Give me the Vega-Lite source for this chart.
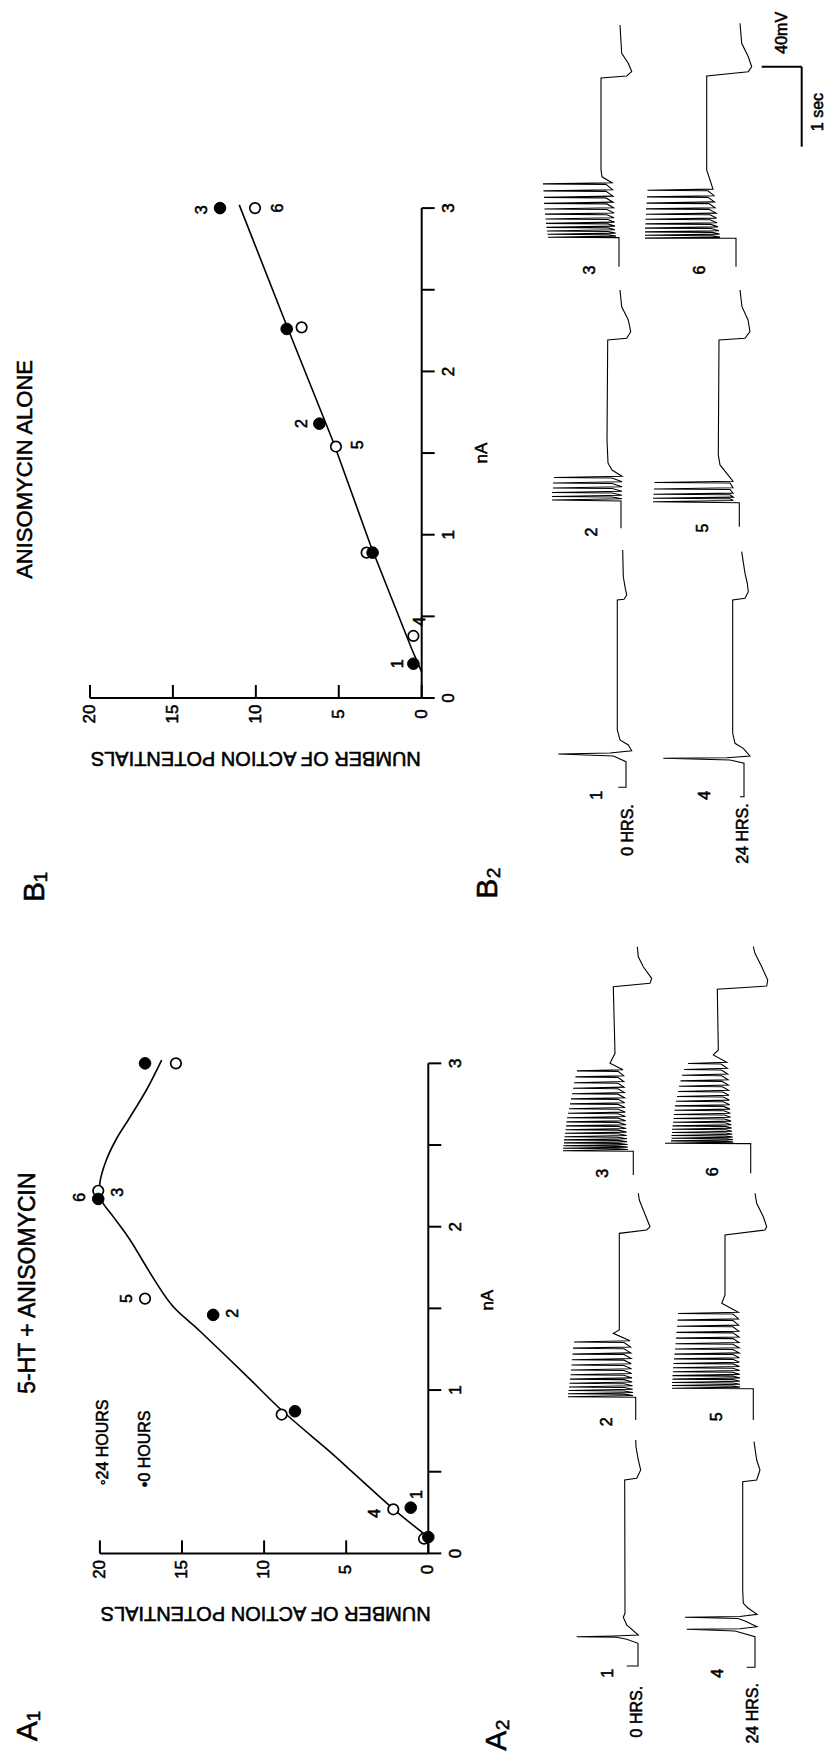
{
"$schema":"https://vega.github.io/schema/vega-lite/v6.json",
"width":826,"height":1758,"padding":0,"autosize":{"type":"none"},
"background":"white",
"config":{"view":{"stroke":null},"axis":{"disable":true},"legend":{"disable":true},"text":{"font":"Liberation Sans","fill":"black","stroke":"black","strokeWidth":0.55},"rule":{"color":"black"},"line":{"color":"black"},"point":{"opacity":1}},
"datasets":{
"b1p":[{"c":12.16,"n":3.0,"h":0},{"c":8.14,"n":2.26,"h":0},{"c":6.17,"n":1.68,"h":0},{"c":2.96,"n":0.89,"h":0},{"c":0.5,"n":0.21,"h":0},
{"c":10.05,"n":3.0,"h":24},{"c":7.24,"n":2.27,"h":24},{"c":5.17,"n":1.54,"h":24},{"c":3.32,"n":0.89,"h":24},{"c":0.5,"n":0.38,"h":24}],
"b1l":[{"c":0,"n":0.16},{"c":0.6,"n":0.3},{"c":3.1,"n":0.94},{"c":5.3,"n":1.56},{"c":8.1,"n":2.27},{"c":11.0,"n":3.02}],
"b1t":[{"c":13.26,"n":2.99,"s":"3"},{"c":8.65,"n":3.0,"s":"6"},{"c":7.24,"n":1.68,"s":"2"},{"c":3.82,"n":1.55,"s":"5"},{"c":1.41,"n":0.21,"s":"1"},{"c":0.1,"n":0.47,"s":"4"}],
"a1p":[{"c":17.25,"n":3.0,"h":0},{"c":20.1,"n":2.17,"h":0},{"c":13.1,"n":1.46,"h":0},{"c":8.12,"n":0.87,"h":0},{"c":1.07,"n":0.28,"h":0},{"c":0,"n":0.1,"h":0},
{"c":15.37,"n":3.0,"h":24},{"c":20.1,"n":2.22,"h":24},{"c":17.25,"n":1.56,"h":24},{"c":8.93,"n":0.85,"h":24},{"c":2.13,"n":0.27,"h":24},{"c":0.26,"n":0.09,"h":24}],
"a1l":[{"c":0,"n":0.1},{"c":2.1,"n":0.27},{"c":4.97,"n":0.53},{"c":6.19,"n":0.64},{"c":8.83,"n":0.867},{"c":11.1,"n":1.09},{"c":13.9,"n":1.36},{"c":15.53,"n":1.51},{"c":16.65,"n":1.67},{"c":18.17,"n":1.92},{"c":19.18,"n":2.06},{"c":19.89,"n":2.16},{"c":20.0,"n":2.27},{"c":19.6,"n":2.41},{"c":18.98,"n":2.54},{"c":18.17,"n":2.67},{"c":17.15,"n":2.84},{"c":16.24,"n":3.02}],
"a1t":[{"c":21.2,"n":2.18,"s":"6"},{"c":18.88,"n":2.21,"s":"3"},{"c":18.37,"n":1.56,"s":"5"},{"c":11.88,"n":1.47,"s":"2"},{"c":3.25,"n":0.245,"s":"4"},{"c":0.71,"n":0.36,"s":"1"}],
"b2a":[
{"k":1,"t":0.159,"v":7.7},{"k":1,"t":0.159,"v":0},{"k":1,"t":0.479,"v":0},{"k":1,"t":0.55,"v":12.7},{"k":1,"t":0.575,"v":67.7},{"k":1,"t":0.588,"v":16},{"k":1,"t":0.616,"v":-5.7},{"k":1,"t":0.688,"v":-2.3},{"k":1,"t":0.75,"v":6},{"k":1,"t":0.875,"v":8.7},{"k":1,"t":2.5,"v":8.7},{"k":1,"t":2.509,"v":2},{"k":1,"t":2.563,"v":-0.7},{"k":1,"t":2.646,"v":0.7},{"k":1,"t":2.791,"v":2.7},{"k":1,"t":3.125,"v":3.3},
{"k":2,"t":3.396,"v":5},{"k":2,"t":3.737,"v":5},{"k":2,"t":3.75,"v":74},{"k":2,"t":3.765,"v":4},{"k":2,"t":3.788,"v":14},{"k":2,"t":3.794,"v":74},{"k":2,"t":3.809,"v":4},{"k":2,"t":3.838,"v":14},{"k":2,"t":3.844,"v":74},{"k":2,"t":3.859,"v":4},{"k":2,"t":3.894,"v":14},{"k":2,"t":3.9,"v":73},{"k":2,"t":3.915,"v":4},{"k":2,"t":3.956,"v":14},{"k":2,"t":3.963,"v":73},{"k":2,"t":3.978,"v":4},{"k":2,"t":4.025,"v":14},{"k":2,"t":4.031,"v":72},{"k":2,"t":4.046,"v":4},{"k":2,"t":4.125,"v":14},{"k":2,"t":4.213,"v":18},{"k":2,"t":4.5,"v":19},{"k":2,"t":5.75,"v":18.3},{"k":2,"t":5.771,"v":-0.7},{"k":2,"t":5.854,"v":-4.7},{"k":2,"t":6.0,"v":-2.3},{"k":2,"t":6.166,"v":4.3},{"k":2,"t":6.375,"v":6},
{"k":3,"t":6.666,"v":7},{"k":3,"t":7.03,"v":7},{"k":3,"t":7.034,"v":78},{"k":3,"t":7.049,"v":10},{"k":3,"t":7.065,"v":18},{"k":3,"t":7.071,"v":78.5},{"k":3,"t":7.086,"v":10.5},{"k":3,"t":7.106,"v":18},{"k":3,"t":7.113,"v":79},{"k":3,"t":7.128,"v":11},{"k":3,"t":7.151,"v":18},{"k":3,"t":7.158,"v":79.5},{"k":3,"t":7.173,"v":11},{"k":3,"t":7.201,"v":18},{"k":3,"t":7.208,"v":80},{"k":3,"t":7.223,"v":11.5},{"k":3,"t":7.256,"v":18},{"k":3,"t":7.263,"v":80.5},{"k":3,"t":7.278,"v":12},{"k":3,"t":7.316,"v":19},{"k":3,"t":7.323,"v":81},{"k":3,"t":7.338,"v":12},{"k":3,"t":7.381,"v":19},{"k":3,"t":7.388,"v":81.5},{"k":3,"t":7.403,"v":12.5},{"k":3,"t":7.451,"v":19},{"k":3,"t":7.458,"v":82},{"k":3,"t":7.473,"v":13},{"k":3,"t":7.526,"v":20},{"k":3,"t":7.533,"v":82},{"k":3,"t":7.548,"v":13},{"k":3,"t":7.608,"v":20},{"k":3,"t":7.614,"v":82.5},{"k":3,"t":7.629,"v":13.5},{"k":3,"t":7.695,"v":20},{"k":3,"t":7.701,"v":83},{"k":3,"t":7.716,"v":14},{"k":3,"t":7.79,"v":24},{"k":3,"t":7.875,"v":25},{"k":3,"t":9.025,"v":25},{"k":3,"t":9.05,"v":-0.7},{"k":3,"t":9.104,"v":-5.7},{"k":3,"t":9.209,"v":-2.3},{"k":3,"t":9.334,"v":4.3},{"k":3,"t":9.688,"v":6}],
"b2b":[
{"k":4,"t":0.041,"v":4},{"k":4,"t":0.041,"v":0},{"k":4,"t":0.459,"v":0},{"k":4,"t":0.5,"v":14},{"k":4,"t":0.521,"v":80.7},{"k":4,"t":0.529,"v":17.3},{"k":4,"t":0.55,"v":-6},{"k":4,"t":0.646,"v":0.7},{"k":4,"t":0.709,"v":9},{"k":4,"t":0.834,"v":11.3},{"k":4,"t":2.5,"v":11.3},{"k":4,"t":2.521,"v":-1},{"k":4,"t":2.604,"v":-4.3},{"k":4,"t":2.709,"v":-3.3},{"k":4,"t":2.834,"v":-1},{"k":4,"t":3.104,"v":2.3},
{"k":5,"t":3.416,"v":4.7},{"k":5,"t":3.716,"v":4.7},{"k":5,"t":3.729,"v":91},{"k":5,"t":3.744,"v":10.7},{"k":5,"t":3.765,"v":14},{"k":5,"t":3.771,"v":91},{"k":5,"t":3.786,"v":10.7},{"k":5,"t":3.815,"v":14},{"k":5,"t":3.821,"v":90.5},{"k":5,"t":3.836,"v":11},{"k":5,"t":3.881,"v":14},{"k":5,"t":3.888,"v":90},{"k":5,"t":3.903,"v":11},{"k":5,"t":3.963,"v":14},{"k":5,"t":3.969,"v":89.5},{"k":5,"t":3.984,"v":11},{"k":5,"t":4.188,"v":24},{"k":5,"t":4.313,"v":25.7},{"k":5,"t":5.75,"v":25},{"k":5,"t":5.771,"v":-1},{"k":5,"t":5.854,"v":-6},{"k":5,"t":6.0,"v":-4},{"k":5,"t":6.166,"v":2},{"k":5,"t":6.375,"v":4},
{"k":6,"t":6.666,"v":8},{"k":6,"t":7.021,"v":8},{"k":6,"t":7.024,"v":99},{"k":6,"t":7.036,"v":24},{"k":6,"t":7.053,"v":32},{"k":6,"t":7.059,"v":99},{"k":6,"t":7.074,"v":24.5},{"k":6,"t":7.095,"v":32},{"k":6,"t":7.101,"v":99},{"k":6,"t":7.116,"v":25},{"k":6,"t":7.143,"v":33},{"k":6,"t":7.149,"v":99},{"k":6,"t":7.164,"v":26},{"k":6,"t":7.195,"v":33},{"k":6,"t":7.201,"v":98.5},{"k":6,"t":7.216,"v":27},{"k":6,"t":7.253,"v":34},{"k":6,"t":7.259,"v":98.5},{"k":6,"t":7.274,"v":27.5},{"k":6,"t":7.315,"v":34},{"k":6,"t":7.321,"v":98},{"k":6,"t":7.336,"v":28},{"k":6,"t":7.383,"v":35},{"k":6,"t":7.389,"v":98},{"k":6,"t":7.404,"v":29},{"k":6,"t":7.455,"v":35},{"k":6,"t":7.461,"v":97.5},{"k":6,"t":7.476,"v":29.5},{"k":6,"t":7.533,"v":36},{"k":6,"t":7.539,"v":97},{"k":6,"t":7.554,"v":30},{"k":6,"t":7.615,"v":36},{"k":6,"t":7.621,"v":96.5},{"k":6,"t":7.636,"v":31},{"k":6,"t":7.75,"v":34},{"k":6,"t":7.875,"v":37.3},{"k":6,"t":9.05,"v":37.3},{"k":6,"t":9.104,"v":-4.3},{"k":6,"t":9.166,"v":-7.7},{"k":6,"t":9.291,"v":-4.3},{"k":6,"t":9.459,"v":2.3},{"k":6,"t":9.709,"v":4}],
"a2a":[
{"k":1,"t":0.175,"v":11.3},{"k":1,"t":0.175,"v":0},{"k":1,"t":0.459,"v":0},{"k":1,"t":0.509,"v":11.3},{"k":1,"t":0.534,"v":21.3},{"k":1,"t":0.541,"v":61.3},{"k":1,"t":0.55,"v":24.7},{"k":1,"t":0.563,"v":-0.3},{"k":1,"t":0.688,"v":11.3},{"k":1,"t":0.784,"v":14.7},{"k":1,"t":0.834,"v":13},{"k":1,"t":2.5,"v":13.3},{"k":1,"t":2.521,"v":1.3},{"k":1,"t":2.625,"v":-2.7},{"k":1,"t":2.75,"v":-0.3},{"k":1,"t":2.916,"v":2},{"k":1,"t":3.0,"v":2.3},
{"k":2,"t":3.25,"v":2.3},{"k":2,"t":3.535,"v":2.3},{"k":2,"t":3.541,"v":70},{"k":2,"t":3.556,"v":5},{"k":2,"t":3.573,"v":14},{"k":2,"t":3.579,"v":70},{"k":2,"t":3.594,"v":5},{"k":2,"t":3.613,"v":14},{"k":2,"t":3.619,"v":69.5},{"k":2,"t":3.634,"v":5.3},{"k":2,"t":3.656,"v":14},{"k":2,"t":3.663,"v":69},{"k":2,"t":3.678,"v":5.5},{"k":2,"t":3.704,"v":14},{"k":2,"t":3.71,"v":68.5},{"k":2,"t":3.725,"v":5.8},{"k":2,"t":3.755,"v":14},{"k":2,"t":3.761,"v":68},{"k":2,"t":3.776,"v":6},{"k":2,"t":3.81,"v":14},{"k":2,"t":3.816,"v":67.5},{"k":2,"t":3.831,"v":6.3},{"k":2,"t":3.869,"v":14},{"k":2,"t":3.875,"v":67},{"k":2,"t":3.89,"v":6.5},{"k":2,"t":3.931,"v":14},{"k":2,"t":3.938,"v":66.5},{"k":2,"t":3.953,"v":6.8},{"k":2,"t":3.998,"v":14},{"k":2,"t":4.004,"v":66},{"k":2,"t":4.019,"v":7},{"k":2,"t":4.068,"v":14},{"k":2,"t":4.074,"v":65.5},{"k":2,"t":4.089,"v":7.3},{"k":2,"t":4.141,"v":14},{"k":2,"t":4.148,"v":65},{"k":2,"t":4.163,"v":7.5},{"k":2,"t":4.219,"v":14},{"k":2,"t":4.225,"v":64},{"k":2,"t":4.24,"v":8},{"k":2,"t":4.333,"v":24.7},{"k":2,"t":4.375,"v":18.7},{"k":2,"t":5.583,"v":18.7},{"k":2,"t":5.625,"v":-8.7},{"k":2,"t":5.666,"v":-12},{"k":2,"t":5.875,"v":-5.3},{"k":2,"t":6.0,"v":-1.3},{"k":2,"t":6.084,"v":-0.3},
{"k":3,"t":6.313,"v":4.7},{"k":3,"t":6.61,"v":4.7},{"k":3,"t":6.616,"v":75},{"k":3,"t":6.631,"v":10},{"k":3,"t":6.64,"v":20},{"k":3,"t":6.646,"v":75},{"k":3,"t":6.661,"v":10.3},{"k":3,"t":6.673,"v":20},{"k":3,"t":6.679,"v":74.5},{"k":3,"t":6.694,"v":10.5},{"k":3,"t":6.708,"v":20},{"k":3,"t":6.714,"v":74},{"k":3,"t":6.729,"v":10.8},{"k":3,"t":6.745,"v":20},{"k":3,"t":6.751,"v":74},{"k":3,"t":6.766,"v":11},{"k":3,"t":6.785,"v":20},{"k":3,"t":6.791,"v":73.5},{"k":3,"t":6.806,"v":11.3},{"k":3,"t":6.828,"v":20},{"k":3,"t":6.834,"v":73},{"k":3,"t":6.849,"v":11.5},{"k":3,"t":6.873,"v":20},{"k":3,"t":6.879,"v":72.5},{"k":3,"t":6.894,"v":11.8},{"k":3,"t":6.92,"v":20},{"k":3,"t":6.926,"v":72},{"k":3,"t":6.941,"v":12},{"k":3,"t":6.97,"v":20},{"k":3,"t":6.976,"v":71.5},{"k":3,"t":6.991,"v":12.3},{"k":3,"t":7.023,"v":20},{"k":3,"t":7.029,"v":71},{"k":3,"t":7.044,"v":12.5},{"k":3,"t":7.078,"v":20},{"k":3,"t":7.084,"v":70},{"k":3,"t":7.099,"v":12.8},{"k":3,"t":7.135,"v":20},{"k":3,"t":7.141,"v":69},{"k":3,"t":7.156,"v":13},{"k":3,"t":7.195,"v":20},{"k":3,"t":7.201,"v":68},{"k":3,"t":7.216,"v":13.3},{"k":3,"t":7.258,"v":20},{"k":3,"t":7.264,"v":67},{"k":3,"t":7.279,"v":13.5},{"k":3,"t":7.323,"v":20},{"k":3,"t":7.329,"v":66},{"k":3,"t":7.344,"v":13.8},{"k":3,"t":7.39,"v":20},{"k":3,"t":7.396,"v":65},{"k":3,"t":7.411,"v":14},{"k":3,"t":7.46,"v":20},{"k":3,"t":7.466,"v":64},{"k":3,"t":7.481,"v":14.3},{"k":3,"t":7.533,"v":20},{"k":3,"t":7.539,"v":62.5},{"k":3,"t":7.554,"v":14.5},{"k":3,"t":7.608,"v":20},{"k":3,"t":7.614,"v":61},{"k":3,"t":7.629,"v":15},{"k":3,"t":7.709,"v":28},{"k":3,"t":7.834,"v":23},{"k":3,"t":8.666,"v":24.7},{"k":3,"t":8.709,"v":-12},{"k":3,"t":8.771,"v":-13.7},{"k":3,"t":8.916,"v":-5.3},{"k":3,"t":9.041,"v":-0.3},{"k":3,"t":9.166,"v":0.7}],
"a2b":[
{"k":4,"t":0.159,"v":8.3},{"k":4,"t":0.159,"v":0},{"k":4,"t":0.541,"v":0},{"k":4,"t":0.613,"v":20},{"k":4,"t":0.634,"v":68.3},{"k":4,"t":0.641,"v":15},{"k":4,"t":0.666,"v":-2},{"k":4,"t":0.738,"v":10},{"k":4,"t":0.769,"v":17},{"k":4,"t":0.784,"v":70},{"k":4,"t":0.794,"v":15},{"k":4,"t":0.821,"v":-2},{"k":4,"t":0.9,"v":7},{"k":4,"t":0.959,"v":11.7},{"k":4,"t":1.125,"v":12.3},{"k":4,"t":2.479,"v":12.3},{"k":4,"t":2.5,"v":-1.7},{"k":4,"t":2.625,"v":-5},{"k":4,"t":2.75,"v":-1.7},{"k":4,"t":2.979,"v":1},
{"k":5,"t":3.25,"v":1.7},{"k":5,"t":3.64,"v":1.7},{"k":5,"t":3.646,"v":83},{"k":5,"t":3.661,"v":15},{"k":5,"t":3.675,"v":22},{"k":5,"t":3.681,"v":83},{"k":5,"t":3.696,"v":15},{"k":5,"t":3.713,"v":22},{"k":5,"t":3.719,"v":83},{"k":5,"t":3.734,"v":15.1},{"k":5,"t":3.755,"v":22},{"k":5,"t":3.761,"v":82.5},{"k":5,"t":3.776,"v":15.2},{"k":5,"t":3.799,"v":22},{"k":5,"t":3.805,"v":82.5},{"k":5,"t":3.82,"v":15.3},{"k":5,"t":3.847,"v":22},{"k":5,"t":3.853,"v":82},{"k":5,"t":3.868,"v":15.4},{"k":5,"t":3.897,"v":22},{"k":5,"t":3.903,"v":82},{"k":5,"t":3.918,"v":15.5},{"k":5,"t":3.951,"v":22},{"k":5,"t":3.957,"v":81.5},{"k":5,"t":3.972,"v":15.6},{"k":5,"t":4.008,"v":22},{"k":5,"t":4.014,"v":81},{"k":5,"t":4.029,"v":15.7},{"k":5,"t":4.068,"v":22},{"k":5,"t":4.074,"v":80.5},{"k":5,"t":4.089,"v":15.8},{"k":5,"t":4.131,"v":22},{"k":5,"t":4.137,"v":80},{"k":5,"t":4.152,"v":15.9},{"k":5,"t":4.197,"v":22},{"k":5,"t":4.203,"v":79.5},{"k":5,"t":4.218,"v":16},{"k":5,"t":4.267,"v":22},{"k":5,"t":4.273,"v":79},{"k":5,"t":4.288,"v":16.1},{"k":5,"t":4.339,"v":22},{"k":5,"t":4.345,"v":78.5},{"k":5,"t":4.36,"v":16.2},{"k":5,"t":4.415,"v":22},{"k":5,"t":4.421,"v":78},{"k":5,"t":4.436,"v":16.4},{"k":5,"t":4.493,"v":22},{"k":5,"t":4.499,"v":77.5},{"k":5,"t":4.514,"v":16.5},{"k":5,"t":4.575,"v":22},{"k":5,"t":4.581,"v":77},{"k":5,"t":4.596,"v":16.7},{"k":5,"t":4.709,"v":33.3},{"k":5,"t":4.813,"v":30},{"k":5,"t":5.563,"v":30},{"k":5,"t":5.625,"v":-10},{"k":5,"t":5.666,"v":-11.7},{"k":5,"t":5.791,"v":-8.3},{"k":5,"t":5.959,"v":-1.7},{"k":5,"t":6.084,"v":0},
{"k":6,"t":6.334,"v":4.3},{"k":6,"t":6.705,"v":4.3},{"k":6,"t":6.709,"v":90},{"k":6,"t":6.724,"v":21.7},{"k":6,"t":6.733,"v":28},{"k":6,"t":6.739,"v":84},{"k":6,"t":6.754,"v":22},{"k":6,"t":6.765,"v":28.3},{"k":6,"t":6.771,"v":83.5},{"k":6,"t":6.786,"v":22.4},{"k":6,"t":6.8,"v":28.6},{"k":6,"t":6.806,"v":83.5},{"k":6,"t":6.821,"v":22.7},{"k":6,"t":6.838,"v":29},{"k":6,"t":6.844,"v":83},{"k":6,"t":6.859,"v":23},{"k":6,"t":6.878,"v":29.3},{"k":6,"t":6.884,"v":83},{"k":6,"t":6.899,"v":23.4},{"k":6,"t":6.92,"v":29.6},{"k":6,"t":6.926,"v":82.5},{"k":6,"t":6.941,"v":23.7},{"k":6,"t":6.965,"v":30},{"k":6,"t":6.971,"v":82},{"k":6,"t":6.986,"v":24},{"k":6,"t":7.013,"v":30.3},{"k":6,"t":7.019,"v":81.5},{"k":6,"t":7.034,"v":24.4},{"k":6,"t":7.063,"v":30.6},{"k":6,"t":7.069,"v":81},{"k":6,"t":7.084,"v":24.7},{"k":6,"t":7.115,"v":31},{"k":6,"t":7.121,"v":80.5},{"k":6,"t":7.136,"v":25},{"k":6,"t":7.17,"v":31.3},{"k":6,"t":7.176,"v":80},{"k":6,"t":7.191,"v":25.4},{"k":6,"t":7.228,"v":31.6},{"k":6,"t":7.234,"v":79},{"k":6,"t":7.249,"v":25.7},{"k":6,"t":7.288,"v":32},{"k":6,"t":7.294,"v":78},{"k":6,"t":7.309,"v":26},{"k":6,"t":7.35,"v":32.3},{"k":6,"t":7.356,"v":77},{"k":6,"t":7.371,"v":26.4},{"k":6,"t":7.415,"v":32.6},{"k":6,"t":7.421,"v":76},{"k":6,"t":7.436,"v":26.7},{"k":6,"t":7.483,"v":33},{"k":6,"t":7.489,"v":74.5},{"k":6,"t":7.504,"v":27},{"k":6,"t":7.553,"v":33.3},{"k":6,"t":7.559,"v":73},{"k":6,"t":7.574,"v":27.4},{"k":6,"t":7.625,"v":33.6},{"k":6,"t":7.631,"v":71},{"k":6,"t":7.646,"v":27.7},{"k":6,"t":7.7,"v":34},{"k":6,"t":7.706,"v":67},{"k":6,"t":7.721,"v":28.3},{"k":6,"t":7.813,"v":41.7},{"k":6,"t":7.875,"v":36.7},{"k":6,"t":8.634,"v":37.7},{"k":6,"t":8.675,"v":-11.7},{"k":6,"t":8.75,"v":-12.7},{"k":6,"t":8.916,"v":-6.7},{"k":6,"t":9.084,"v":0},{"k":6,"t":9.166,"v":1.7}]
},
"resolve":{"scale":{"x":"independent","y":"independent"}},
"layer":[
{"layer":[
 {"data":{"values":[{"c":0,"c2":20,"n":0,"n2":0},{"c":0,"c2":0,"n":0,"n2":3}]},"mark":{"type":"rule","strokeWidth":2},
  "encoding":{"x":{"field":"c","type":"quantitative","scale":{"domain":[-24.378,25.426],"reverse":true,"nice":false,"zero":false},"axis":null},"x2":{"field":"c2"},"y":{"field":"n","type":"quantitative","scale":{"domain":[-6.4911,4.2744],"nice":false,"zero":false},"axis":null},"y2":{"field":"n2"}}},
 {"data":{"values":[{"c":0},{"c":5},{"c":10},{"c":15},{"c":20}]},"mark":{"type":"rule","strokeWidth":2,"y2Offset":-13},
  "encoding":{"x":{"field":"c","type":"quantitative","scale":{"domain":[-24.378,25.426],"reverse":true,"nice":false,"zero":false},"axis":null},"y":{"datum":0,"type":"quantitative","scale":{"domain":[-6.4911,4.2744],"nice":false,"zero":false},"axis":null},"y2":{"datum":0}}},
 {"data":{"values":[{"n":0},{"n":0.5},{"n":1},{"n":1.5},{"n":2},{"n":2.5},{"n":3}]},"mark":{"type":"rule","strokeWidth":2,"x2Offset":13},
  "encoding":{"x":{"datum":0,"type":"quantitative","scale":{"domain":[-24.378,25.426],"reverse":true,"nice":false,"zero":false},"axis":null},"x2":{"datum":0},"y":{"field":"n","type":"quantitative","scale":{"domain":[-6.4911,4.2744],"nice":false,"zero":false},"axis":null}}},
 {"data":{"values":[{"c":0},{"c":5},{"c":10},{"c":15},{"c":20}]},"mark":{"type":"text","angle":270,"dx":-16,"fontSize":17},
  "encoding":{"x":{"field":"c","type":"quantitative","scale":{"domain":[-24.378,25.426],"reverse":true,"nice":false,"zero":false},"axis":null},"y":{"datum":0,"type":"quantitative","scale":{"domain":[-6.4911,4.2744],"nice":false,"zero":false},"axis":null},"text":{"field":"c","type":"quantitative"}}},
 {"data":{"values":[{"n":0},{"n":1},{"n":2},{"n":3}]},"mark":{"type":"text","angle":270,"dy":27,"fontSize":17},
  "encoding":{"x":{"datum":0,"type":"quantitative","scale":{"domain":[-24.378,25.426],"reverse":true,"nice":false,"zero":false},"axis":null},"y":{"field":"n","type":"quantitative","scale":{"domain":[-6.4911,4.2744],"nice":false,"zero":false},"axis":null},"text":{"field":"n","type":"quantitative"}}},
 {"data":{"values":[{"c":0,"n":1.5,"s":"nA"}]},"mark":{"type":"text","angle":270,"dy":60,"fontSize":17},
  "encoding":{"x":{"field":"c","type":"quantitative","scale":{"domain":[-24.378,25.426],"reverse":true,"nice":false,"zero":false},"axis":null},"y":{"field":"n","type":"quantitative","scale":{"domain":[-6.4911,4.2744],"nice":false,"zero":false},"axis":null},"text":{"field":"s"}}},
 {"data":{"values":[{"c":10,"n":0,"s":"NUMBER OF ACTION POTENTIALS"}]},"mark":{"type":"text","angle":180,"dy":-60,"fontSize":20},
  "encoding":{"x":{"field":"c","type":"quantitative","scale":{"domain":[-24.378,25.426],"reverse":true,"nice":false,"zero":false},"axis":null},"y":{"field":"n","type":"quantitative","scale":{"domain":[-6.4911,4.2744],"nice":false,"zero":false},"axis":null},"text":{"field":"s"}}},
 {"data":{"values":[{"c":23.92,"n":1.4,"s":"ANISOMYCIN ALONE"}]},"mark":{"type":"text","angle":270,"fontSize":22},
  "encoding":{"x":{"field":"c","type":"quantitative","scale":{"domain":[-24.378,25.426],"reverse":true,"nice":false,"zero":false},"axis":null},"y":{"field":"n","type":"quantitative","scale":{"domain":[-6.4911,4.2744],"nice":false,"zero":false},"axis":null},"text":{"field":"s"}}},
 {"data":{"values":[{"c":23.32,"n":-1.157,"s":"B₁"}]},"mark":{"type":"text","angle":270,"fontSize":30},
  "encoding":{"x":{"field":"c","type":"quantitative","scale":{"domain":[-24.378,25.426],"reverse":true,"nice":false,"zero":false},"axis":null},"y":{"field":"n","type":"quantitative","scale":{"domain":[-6.4911,4.2744],"nice":false,"zero":false},"axis":null},"text":{"field":"s"}}},
 {"data":{"name":"b1l"},"mark":{"type":"line","strokeWidth":1.6},
  "encoding":{"x":{"field":"c","type":"quantitative","scale":{"domain":[-24.378,25.426],"reverse":true,"nice":false,"zero":false},"axis":null},"y":{"field":"n","type":"quantitative","scale":{"domain":[-6.4911,4.2744],"nice":false,"zero":false},"axis":null},"order":{"value":null}}},
 {"data":{"name":"b1p"},"transform":[{"filter":"datum.h == 24"}],"mark":{"type":"point","shape":"circle","size":110,"filled":true,"fill":"white","stroke":"black","strokeWidth":1.7,"opacity":1},
  "encoding":{"x":{"field":"c","type":"quantitative","scale":{"domain":[-24.378,25.426],"reverse":true,"nice":false,"zero":false},"axis":null},"y":{"field":"n","type":"quantitative","scale":{"domain":[-6.4911,4.2744],"nice":false,"zero":false},"axis":null}}},
 {"data":{"name":"b1p"},"transform":[{"filter":"datum.h == 0"}],"mark":{"type":"point","shape":"circle","size":135,"filled":true,"fill":"black","stroke":"black","strokeWidth":1,"opacity":1},
  "encoding":{"x":{"field":"c","type":"quantitative","scale":{"domain":[-24.378,25.426],"reverse":true,"nice":false,"zero":false},"axis":null},"y":{"field":"n","type":"quantitative","scale":{"domain":[-6.4911,4.2744],"nice":false,"zero":false},"axis":null}}},
 {"data":{"name":"b1t"},"mark":{"type":"text","angle":270,"fontSize":16},
  "encoding":{"x":{"field":"c","type":"quantitative","scale":{"domain":[-24.378,25.426],"reverse":true,"nice":false,"zero":false},"axis":null},"y":{"field":"n","type":"quantitative","scale":{"domain":[-6.4911,4.2744],"nice":false,"zero":false},"axis":null},"text":{"field":"s"}}}
]},
{"layer":[
 {"data":{"values":[{"c":0,"c2":20,"n":0,"n2":0},{"c":0,"c2":0,"n":0,"n2":3}]},"mark":{"type":"rule","strokeWidth":2},
  "encoding":{"x":{"field":"c","type":"quantitative","scale":{"domain":[-24.221,26.084],"reverse":true,"nice":false,"zero":false},"axis":null},"x2":{"field":"c2"},"y":{"field":"n","type":"quantitative","scale":{"domain":[-1.2525,9.5097],"nice":false,"zero":false},"axis":null},"y2":{"field":"n2"}}},
 {"data":{"values":[{"c":0},{"c":5},{"c":10},{"c":15},{"c":20}]},"mark":{"type":"rule","strokeWidth":2,"y2Offset":-13},
  "encoding":{"x":{"field":"c","type":"quantitative","scale":{"domain":[-24.221,26.084],"reverse":true,"nice":false,"zero":false},"axis":null},"y":{"datum":0,"type":"quantitative","scale":{"domain":[-1.2525,9.5097],"nice":false,"zero":false},"axis":null},"y2":{"datum":0}}},
 {"data":{"values":[{"n":0},{"n":0.5},{"n":1},{"n":1.5},{"n":2},{"n":2.5},{"n":3}]},"mark":{"type":"rule","strokeWidth":2,"x2Offset":13},
  "encoding":{"x":{"datum":0,"type":"quantitative","scale":{"domain":[-24.221,26.084],"reverse":true,"nice":false,"zero":false},"axis":null},"x2":{"datum":0},"y":{"field":"n","type":"quantitative","scale":{"domain":[-1.2525,9.5097],"nice":false,"zero":false},"axis":null}}},
 {"data":{"values":[{"c":0},{"c":5},{"c":10},{"c":15},{"c":20}]},"mark":{"type":"text","angle":270,"dx":-16,"fontSize":17},
  "encoding":{"x":{"field":"c","type":"quantitative","scale":{"domain":[-24.221,26.084],"reverse":true,"nice":false,"zero":false},"axis":null},"y":{"datum":0,"type":"quantitative","scale":{"domain":[-1.2525,9.5097],"nice":false,"zero":false},"axis":null},"text":{"field":"c","type":"quantitative"}}},
 {"data":{"values":[{"n":0},{"n":1},{"n":2},{"n":3}]},"mark":{"type":"text","angle":270,"dy":28,"fontSize":17},
  "encoding":{"x":{"datum":0,"type":"quantitative","scale":{"domain":[-24.221,26.084],"reverse":true,"nice":false,"zero":false},"axis":null},"y":{"field":"n","type":"quantitative","scale":{"domain":[-1.2525,9.5097],"nice":false,"zero":false},"axis":null},"text":{"field":"n","type":"quantitative"}}},
 {"data":{"values":[{"c":0,"n":1.55,"s":"nA"}]},"mark":{"type":"text","angle":270,"dy":60,"fontSize":17},
  "encoding":{"x":{"field":"c","type":"quantitative","scale":{"domain":[-24.221,26.084],"reverse":true,"nice":false,"zero":false},"axis":null},"y":{"field":"n","type":"quantitative","scale":{"domain":[-1.2525,9.5097],"nice":false,"zero":false},"axis":null},"text":{"field":"s"}}},
 {"data":{"values":[{"c":9.9,"n":0,"s":"NUMBER OF ACTION POTENTIALS"}]},"mark":{"type":"text","angle":180,"dy":-60,"fontSize":20},
  "encoding":{"x":{"field":"c","type":"quantitative","scale":{"domain":[-24.221,26.084],"reverse":true,"nice":false,"zero":false},"axis":null},"y":{"field":"n","type":"quantitative","scale":{"domain":[-1.2525,9.5097],"nice":false,"zero":false},"axis":null},"text":{"field":"s"}}},
 {"data":{"values":[{"c":24.38,"n":1.655,"s":"5-HT + ANISOMYCIN"}]},"mark":{"type":"text","angle":270,"fontSize":23},
  "encoding":{"x":{"field":"c","type":"quantitative","scale":{"domain":[-24.221,26.084],"reverse":true,"nice":false,"zero":false},"axis":null},"y":{"field":"n","type":"quantitative","scale":{"domain":[-1.2525,9.5097],"nice":false,"zero":false},"axis":null},"text":{"field":"s"}}},
 {"data":{"values":[{"c":24.38,"n":-1.057,"s":"A₁"}]},"mark":{"type":"text","angle":270,"fontSize":30},
  "encoding":{"x":{"field":"c","type":"quantitative","scale":{"domain":[-24.221,26.084],"reverse":true,"nice":false,"zero":false},"axis":null},"y":{"field":"n","type":"quantitative","scale":{"domain":[-1.2525,9.5097],"nice":false,"zero":false},"axis":null},"text":{"field":"s"}}},
 {"data":{"values":[{"c":19.81,"n":0.68,"s":"◦24 HOURS"},{"c":17.25,"n":0.64,"s":"•0 HOURS"}]},"mark":{"type":"text","angle":270,"fontSize":16},
  "encoding":{"x":{"field":"c","type":"quantitative","scale":{"domain":[-24.221,26.084],"reverse":true,"nice":false,"zero":false},"axis":null},"y":{"field":"n","type":"quantitative","scale":{"domain":[-1.2525,9.5097],"nice":false,"zero":false},"axis":null},"text":{"field":"s"}}},
 {"data":{"name":"a1l"},"mark":{"type":"line","strokeWidth":1.6,"interpolate":"cardinal"},
  "encoding":{"x":{"field":"c","type":"quantitative","scale":{"domain":[-24.221,26.084],"reverse":true,"nice":false,"zero":false},"axis":null},"y":{"field":"n","type":"quantitative","scale":{"domain":[-1.2525,9.5097],"nice":false,"zero":false},"axis":null},"order":{"value":null}}},
 {"data":{"name":"a1p"},"transform":[{"filter":"datum.h == 24"}],"mark":{"type":"point","shape":"circle","size":110,"filled":true,"fill":"white","stroke":"black","strokeWidth":1.7,"opacity":1},
  "encoding":{"x":{"field":"c","type":"quantitative","scale":{"domain":[-24.221,26.084],"reverse":true,"nice":false,"zero":false},"axis":null},"y":{"field":"n","type":"quantitative","scale":{"domain":[-1.2525,9.5097],"nice":false,"zero":false},"axis":null}}},
 {"data":{"name":"a1p"},"transform":[{"filter":"datum.h == 0"}],"mark":{"type":"point","shape":"circle","size":135,"filled":true,"fill":"black","stroke":"black","strokeWidth":1,"opacity":1},
  "encoding":{"x":{"field":"c","type":"quantitative","scale":{"domain":[-24.221,26.084],"reverse":true,"nice":false,"zero":false},"axis":null},"y":{"field":"n","type":"quantitative","scale":{"domain":[-1.2525,9.5097],"nice":false,"zero":false},"axis":null}}},
 {"data":{"name":"a1t"},"mark":{"type":"text","angle":270,"fontSize":16},
  "encoding":{"x":{"field":"c","type":"quantitative","scale":{"domain":[-24.221,26.084],"reverse":true,"nice":false,"zero":false},"axis":null},"y":{"field":"n","type":"quantitative","scale":{"domain":[-1.2525,9.5097],"nice":false,"zero":false},"axis":null},"text":{"field":"s"}}}
]},
{"layer":[
 {"data":{"name":"b2a"},"mark":{"type":"line","strokeWidth":1.1},
  "encoding":{"x":{"field":"v","type":"quantitative","scale":{"domain":[-200,626],"reverse":true,"nice":false,"zero":false},"axis":null},"y":{"field":"t","type":"quantitative","scale":{"domain":[-11.975,10],"nice":false,"zero":false},"axis":null},"detail":{"field":"k","type":"nominal"},"order":{"value":null}}},
 {"data":{"values":[{"v":29.3,"t":0.06,"s":"1"},{"v":34.3,"t":3.35,"s":"2"},{"v":36,"t":6.625,"s":"3"},{"v":-2.3,"t":-0.375,"s":"0 HRS."}]},"mark":{"type":"text","angle":270,"fontSize":16},
  "encoding":{"x":{"field":"v","type":"quantitative","scale":{"domain":[-200,626],"reverse":true,"nice":false,"zero":false},"axis":null},"y":{"field":"t","type":"quantitative","scale":{"domain":[-11.975,10],"nice":false,"zero":false},"axis":null},"text":{"field":"s"}}},
 {"data":{"values":[{"v":137.7,"t":-1.0375,"s":"B₂"}]},"mark":{"type":"text","angle":270,"fontSize":30},
  "encoding":{"x":{"field":"v","type":"quantitative","scale":{"domain":[-200,626],"reverse":true,"nice":false,"zero":false},"axis":null},"y":{"field":"t","type":"quantitative","scale":{"domain":[-11.975,10],"nice":false,"zero":false},"axis":null},"text":{"field":"s"}}}
]},
{"layer":[
 {"data":{"name":"b2b"},"mark":{"type":"line","strokeWidth":1.1},
  "encoding":{"x":{"field":"v","type":"quantitative","scale":{"domain":[-82,744],"reverse":true,"nice":false,"zero":false},"axis":null},"y":{"field":"t","type":"quantitative","scale":{"domain":[-11.975,10],"nice":false,"zero":false},"axis":null},"detail":{"field":"k","type":"nominal"},"order":{"value":null}}},
 {"data":{"values":[{"v":39,"t":0.06,"s":"4"},{"v":40.7,"t":3.4,"s":"5"},{"v":44,"t":6.625,"s":"6"},{"v":1.3,"t":-0.42,"s":"24 HRS."},{"v":-37.7,"t":9.59,"s":"40mV"},{"v":-74,"t":8.6,"s":"1 sec"}]},"mark":{"type":"text","angle":270,"fontSize":16},
  "encoding":{"x":{"field":"v","type":"quantitative","scale":{"domain":[-82,744],"reverse":true,"nice":false,"zero":false},"axis":null},"y":{"field":"t","type":"quantitative","scale":{"domain":[-11.975,10],"nice":false,"zero":false},"axis":null},"text":{"field":"s"}}},
 {"data":{"values":[{"v":-17.7,"v2":-57.7,"t":9.166,"t2":9.166},{"v":-57.7,"v2":-57.7,"t":9.166,"t2":8.166}]},"mark":{"type":"rule","strokeWidth":2},
  "encoding":{"x":{"field":"v","type":"quantitative","scale":{"domain":[-82,744],"reverse":true,"nice":false,"zero":false},"axis":null},"x2":{"field":"v2"},"y":{"field":"t","type":"quantitative","scale":{"domain":[-11.975,10],"nice":false,"zero":false},"axis":null},"y2":{"field":"t2"}}}
]},
{"layer":[
 {"data":{"name":"a2a"},"mark":{"type":"line","strokeWidth":1.1},
  "encoding":{"x":{"field":"v","type":"quantitative","scale":{"domain":[-188,638],"reverse":true,"nice":false,"zero":false},"axis":null},"y":{"field":"t","type":"quantitative","scale":{"domain":[-0.975,21],"nice":false,"zero":false},"axis":null},"detail":{"field":"k","type":"nominal"},"order":{"value":null}}},
 {"data":{"values":[{"v":29.7,"t":0.083,"s":"1"},{"v":31.3,"t":3.229,"s":"2"},{"v":34.7,"t":6.333,"s":"3"},{"v":1.3,"t":-0.396,"s":"0 HRS."}]},"mark":{"type":"text","angle":270,"fontSize":16},
  "encoding":{"x":{"field":"v","type":"quantitative","scale":{"domain":[-188,638],"reverse":true,"nice":false,"zero":false},"axis":null},"y":{"field":"t","type":"quantitative","scale":{"domain":[-0.975,21],"nice":false,"zero":false},"axis":null},"text":{"field":"s"}}},
 {"data":{"values":[{"v":141.3,"t":-0.6875,"s":"A₂"}]},"mark":{"type":"text","angle":270,"fontSize":30},
  "encoding":{"x":{"field":"v","type":"quantitative","scale":{"domain":[-188,638],"reverse":true,"nice":false,"zero":false},"axis":null},"y":{"field":"t","type":"quantitative","scale":{"domain":[-0.975,21],"nice":false,"zero":false},"axis":null},"text":{"field":"s"}}}
]},
{"layer":[
 {"data":{"name":"a2b"},"mark":{"type":"line","strokeWidth":1.1},
  "encoding":{"x":{"field":"v","type":"quantitative","scale":{"domain":[-71,755],"reverse":true,"nice":false,"zero":false},"axis":null},"y":{"field":"t","type":"quantitative","scale":{"domain":[-0.975,21],"nice":false,"zero":false},"axis":null},"detail":{"field":"k","type":"nominal"},"order":{"value":null}}},
 {"data":{"values":[{"v":36.7,"t":0.083,"s":"4"},{"v":38.3,"t":3.29,"s":"5"},{"v":41.7,"t":6.354,"s":"6"},{"v":1.7,"t":-0.417,"s":"24 HRS."}]},"mark":{"type":"text","angle":270,"fontSize":16},
  "encoding":{"x":{"field":"v","type":"quantitative","scale":{"domain":[-71,755],"reverse":true,"nice":false,"zero":false},"axis":null},"y":{"field":"t","type":"quantitative","scale":{"domain":[-0.975,21],"nice":false,"zero":false},"axis":null},"text":{"field":"s"}}}
]}
]
}
